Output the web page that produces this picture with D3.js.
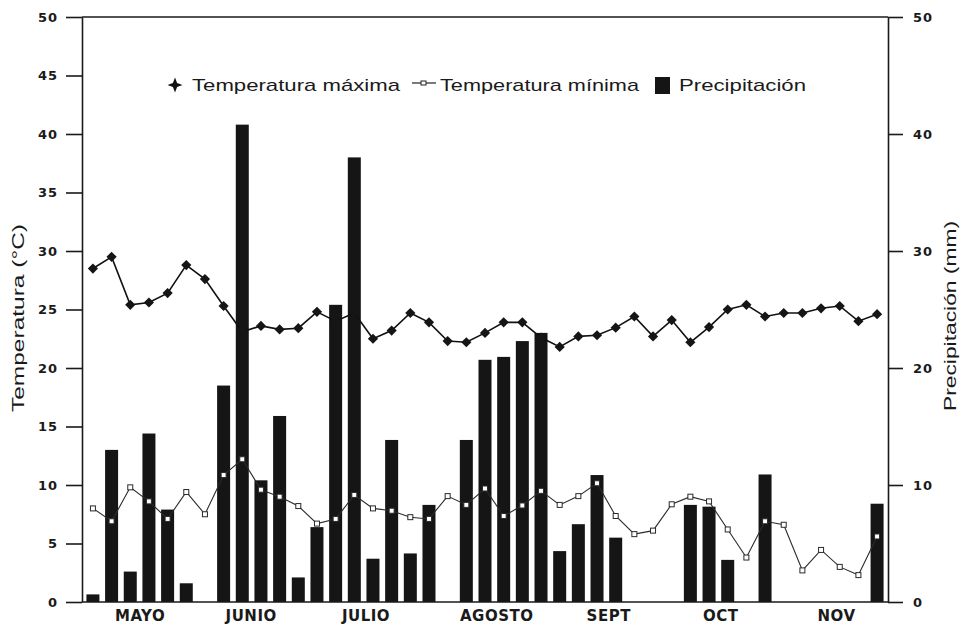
<!DOCTYPE html>
<html>
<head>
<meta charset="utf-8">
<script src="https://cdnjs.cloudflare.com/ajax/libs/d3/7.8.5/d3.min.js"></script>
<style>
  body { margin: 0; background: #fff; }
  svg { display: block; }
  .tick text { font-family: "DejaVu Sans", sans-serif; font-weight: bold; font-size: 13px; fill: #1a1a1a; letter-spacing: 1px; }
  .meses .tick text { font-size: 15px; letter-spacing: 0.5px; }
  .titulo, .leyenda { font-family: "Liberation Sans", Arial, sans-serif; fill: #1a1a1a; }
</style>
</head>
<body>
<div id="chart"></div>
<script>
// pentadas de mayo a noviembre
var periodos = d3.range(43);
var tempMax = [28.5, 29.5, 25.4, 25.6, 26.4, 28.8, 27.6, 25.3, 23.1, 23.6, 23.3, 23.4, 24.8, 24.0, 24.7,
               22.5, 23.2, 24.7, 23.9, 22.3, 22.2, 23.0, 23.9, 23.9, 22.6, 21.8, 22.7, 22.8, 23.45,
               24.4, 22.7, 24.1, 22.2, 23.5, 25.0, 25.4, 24.4, 24.7, 24.7, 25.1, 25.3, 24.0, 24.6];
var tempMin = [8.0, 6.9, 9.8, 8.6, 7.1, 9.4, 7.5, 10.85, 12.2, 9.6, 9.0, 8.2, 6.7, 7.1, 9.15,
               8.0, 7.8, 7.25, 7.1, 9.05, 8.3, 9.7, 7.35, 8.25, 9.5, 8.3, 9.05, 10.15, 7.35,
               5.8, 6.1, 8.35, 9.0, 8.6, 6.2, 3.8, 6.9, 6.6, 2.7, 4.45, 3.0, 2.3, 5.6];
var precip = [0.65, 13.0, 2.6, 14.4, 7.9, 1.6, 0, 18.5, 40.8, 10.4, 15.9, 2.1, 6.4, 25.4, 38.0,
              3.7, 13.85, 4.15, 8.3, 0, 13.85, 20.7, 20.95, 22.3, 23.0, 4.35, 6.65, 10.85, 5.5,
              0, 0, 0, 8.3, 8.15, 3.6, 0, 10.9, 0, 0, 0, 0, 0, 8.4];
var meses = ["MAYO", "JUNIO", "JULIO", "AGOSTO", "SEPT", "OCT", "NOV"];
var mesPos = [2.5, 8.45, 14.6, 21.6, 27.6, 33.6, 39.8];
var ticksTemp = [0, 5, 10, 15, 20, 25, 30, 35, 40, 45, 50];
var ticksPrec = [0, 10, 20, 30, 40, 50];

var width = 962, height = 625;
var plotL = 82, plotR = 888, plotT = 17, plotB = 602;

var svg = d3.select('#chart')
  .append('svg')
  .attr('width', width)
  .attr('height', height);

var x = d3.scalePoint().domain(periodos).range([plotL, plotR]).padding(0.585);
var xm = d3.scaleLinear().domain([0, 42]).range([x(0), x(42)]);
var y = d3.scaleLinear().domain([0, 50]).range([plotB, plotT]);
var yP = d3.scaleLinear().domain([0, 50]).range([plotB, plotT]);

// barras de precipitacion
var barW = 13;
svg.append('g').selectAll('rect')
  .data(precip)
  .enter()
  .append('rect')
  .attr('x', function(d, i){ return x(i) - barW / 2; })
  .attr('y', function(d){ return yP(d); })
  .attr('width', barW)
  .attr('height', function(d){ return yP(0) - yP(d); })
  .attr('fill', '#151515');

// temperatura minima
var linea = d3.line().x(function(d, i){ return x(i); }).y(function(d){ return y(d); });
svg.append('path')
  .datum(tempMin)
  .attr('d', linea)
  .attr('fill', 'none')
  .attr('stroke', '#2a2a2a')
  .attr('stroke-width', 1.1);
svg.append('g').selectAll('rect')
  .data(tempMin)
  .enter()
  .append('rect')
  .attr('x', function(d, i){ return x(i) - 2.5; })
  .attr('y', function(d){ return y(d) - 2.5; })
  .attr('width', 5)
  .attr('height', 5)
  .attr('fill', '#fff')
  .attr('stroke', '#2a2a2a')
  .attr('stroke-width', 1);

// temperatura maxima
svg.append('path')
  .datum(tempMax)
  .attr('d', linea)
  .attr('fill', 'none')
  .attr('stroke', '#111')
  .attr('stroke-width', 1.6);
var diamond = d3.symbol().type(d3.symbolSquare).size(52);
svg.append('g').selectAll('path')
  .data(tempMax)
  .enter()
  .append('path')
  .attr('d', diamond)
  .attr('transform', function(d, i){ return 'translate(' + x(i) + ',' + y(d) + ') rotate(45)'; })
  .attr('fill', '#151515');

// ejes
var axL = svg.append('g')
  .attr('transform', 'translate(' + plotL + ',0)')
  .call(d3.axisLeft(y).tickValues(ticksTemp).tickSize(16).tickSizeOuter(0).tickPadding(8));
var axR = svg.append('g')
  .attr('transform', 'translate(' + plotR + ',0)')
  .call(d3.axisRight(yP).tickValues(ticksPrec).tickSize(15).tickSizeOuter(0).tickPadding(10));
var axB = svg.append('g')
  .attr('class', 'meses')
  .attr('transform', 'translate(0,' + plotB + ')')
  .call(d3.axisBottom(xm).tickValues(mesPos).tickFormat(function(d, i){ return meses[i]; }).tickSize(0).tickPadding(8));
axB.select('.domain').remove();
[axL, axR].forEach(function(a){
  a.selectAll('line, path').attr('stroke', '#1a1a1a').attr('stroke-width', 1.6);
});
svg.append('line')
  .attr('x1', plotL).attr('x2', plotR).attr('y1', y(50)).attr('y2', y(50))
  .attr('stroke', '#1a1a1a').attr('stroke-width', 1.6);
svg.append('line')
  .attr('x1', plotL).attr('x2', plotR).attr('y1', y(0)).attr('y2', y(0))
  .attr('stroke', '#1a1a1a').attr('stroke-width', 1.6);

// titulos de ejes
svg.append('text')
  .attr('class', 'titulo')
  .attr('transform', 'translate(24,318) rotate(-90)')
  .attr('text-anchor', 'middle')
  .attr('font-size', 16)
  .attr('textLength', 188)
  .attr('lengthAdjust', 'spacingAndGlyphs')
  .text('Temperatura (°C)');
svg.append('text')
  .attr('class', 'titulo')
  .attr('transform', 'translate(956,316) rotate(-90)')
  .attr('text-anchor', 'middle')
  .attr('font-size', 16)
  .attr('textLength', 190)
  .attr('lengthAdjust', 'spacingAndGlyphs')
  .text('Precipitación (mm)');

// leyenda
var leg = svg.append('g').attr('class', 'leyenda');
var star = {
  draw: function(ctx, size){
    var r = Math.sqrt(size), s = r * 0.28;
    ctx.moveTo(0, -r); ctx.lineTo(s, -s); ctx.lineTo(r, 0); ctx.lineTo(s, s);
    ctx.lineTo(0, r); ctx.lineTo(-s, s); ctx.lineTo(-r, 0); ctx.lineTo(-s, -s);
    ctx.closePath();
  }
};
leg.append('path')
  .attr('d', d3.symbol().type(star).size(56))
  .attr('transform', 'translate(175,85)')
  .attr('fill', '#111');
leg.append('line')
  .attr('x1', 412).attr('x2', 436).attr('y1', 83).attr('y2', 83)
  .attr('stroke', '#222').attr('stroke-width', 1.2);
leg.append('rect')
  .attr('x', 421).attr('y', 81).attr('width', 5).attr('height', 4)
  .attr('fill', '#fff').attr('stroke', '#222');
leg.append('rect')
  .attr('x', 655).attr('y', 77).attr('width', 15).attr('height', 17)
  .attr('fill', '#151515');
var legTxt = [
  {t: 'Temperatura máxima', x: 192, w: 208},
  {t: 'Temperatura mínima', x: 440, w: 199},
  {t: 'Precipitación', x: 679, w: 127}
];
leg.selectAll('text')
  .data(legTxt)
  .enter()
  .append('text')
  .attr('x', function(d){ return d.x; })
  .attr('y', 91)
  .attr('font-size', 17)
  .attr('textLength', function(d){ return d.w; })
  .attr('lengthAdjust', 'spacingAndGlyphs')
  .text(function(d){ return d.t; });
</script>
</body>
</html>
